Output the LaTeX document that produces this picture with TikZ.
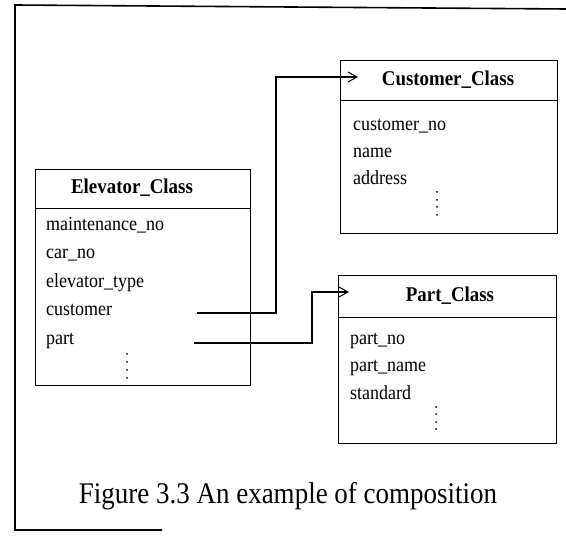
\documentclass[tikz,border=0pt]{standalone}
\usepackage{fontspec}
\setmainfont{Liberation Serif}
\newfontfamily\narrowfont{Liberation Serif}[FakeStretch=0.9]
\usetikzlibrary{arrows.meta}
\begin{document}
\begin{tikzpicture}[x=1pt,y=-1pt,
  box/.style={draw, line width=0.8pt, rectangle, inner sep=0pt, outer sep=0pt, anchor=north west},
  title/.style={font=\narrowfont\fontsize{21}{24}\selectfont\bfseries, inner sep=0pt},
  attr/.style={font=\narrowfont\fontsize{20}{23}\selectfont, inner sep=0pt, anchor=mid west},
  conn/.style={line width=2.2pt, -{Straight Barb[length=9pt,width=10pt,line width=1pt]}},
  frame/.style={line width=1.6pt},
  dot/.style={fill=black}]
\useasboundingbox (0,0) rectangle (566,545);

% frame
\draw[frame] (566,9) -- (15,5) -- (15,530) -- (162,530);

% Elevator class
\node[box, minimum width=215pt, minimum height=216pt] (elev) at (35,169) {};
\draw[line width=0.8pt] ([yshift=-39pt]elev.north west) -- ([yshift=-39pt]elev.north east);
\node[title] (elevT) at (132,188) {Elevator\_Class};
\node[attr] (e1) at (46,228) {maintenance\_no};
\node[attr] (e2) at (46,256) {car\_no};
\node[attr] (e3) at (46,285) {elevator\_type};
\node[attr] (e4) at (46,313) {customer};
\node[attr] (e5) at (46,342) {part};
\foreach \y in {354,362,370,378} \fill[dot] (127,\y) circle (1pt);

% Customer class
\node[box, minimum width=217pt, minimum height=173pt] (cust) at (340,60) {};
\draw[line width=0.8pt] ([yshift=-40pt]cust.north west) -- ([yshift=-40pt]cust.north east);
\node[title] (custT) at (448,80) {Customer\_Class};
\node[attr] (c1) at (353,128) {customer\_no};
\node[attr] (c2) at (353,155) {name};
\node[attr] (c3) at (353,182) {address};
\foreach \y in {192,200,207,215} \fill[dot] (437,\y) circle (1pt);

% Part class
\node[box, minimum width=218pt, minimum height=168pt] (part) at (338,275) {};
\draw[line width=0.8pt] ([yshift=-42pt]part.north west) -- ([yshift=-42pt]part.north east);
\node[title] (partT) at (450,296) {Part\_Class};
\node[attr] (p1) at (350,342) {part\_no};
\node[attr] (p2) at (350,369) {part\_name};
\node[attr] (p3) at (350,397) {standard};
\foreach \y in {407,414,422,429} \fill[dot] (436,\y) circle (1pt);

% connectors
\coordinate (cs) at (197,313);
\coordinate (ce) at (358,77);
\draw[conn] (cs) -- ++(79,0) |- (ce);
\coordinate (ps) at (194,343);
\coordinate (pe) at (349,292);
\draw[conn] (ps) -- ++(118,0) |- (pe);

% caption
\node[font=\narrowfont\fontsize{30}{33}\selectfont, inner sep=0pt] (cap) at (288,496) {Figure 3.3 An example of composition};
\end{tikzpicture}
\end{document}
